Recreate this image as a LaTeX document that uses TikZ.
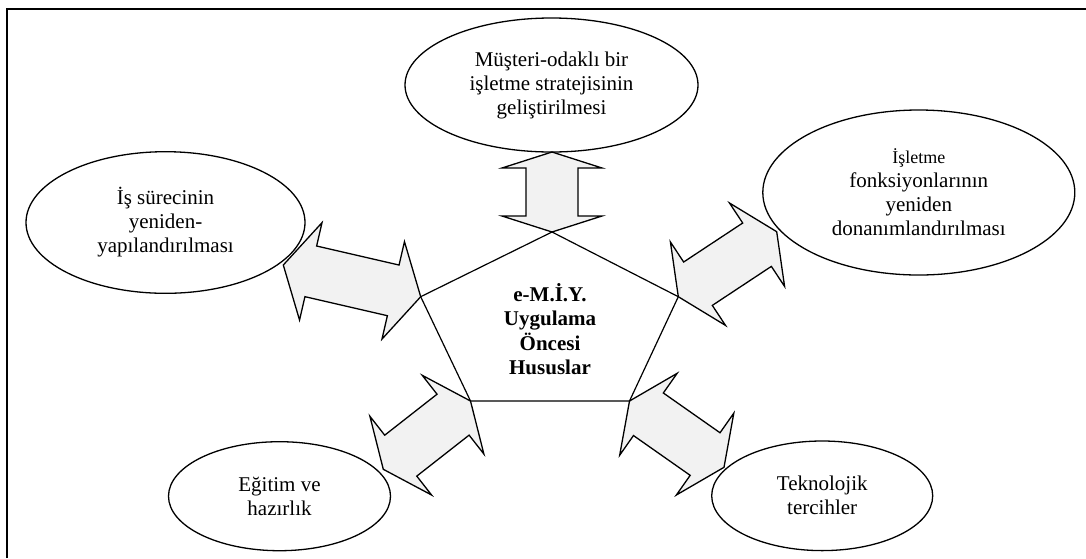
\documentclass[tikz,border=0pt]{standalone}
\usepackage{fontspec}
\setmainfont{Liberation Serif}
\usetikzlibrary{calc,shapes.geometric}

\tikzset{
  topic/.style={draw, line width=1.3pt, ellipse, inner sep=0pt, align=center,
    font=\fontsize{21}{24}\selectfont},
  blockarrow/.style={draw, line width=1.3pt, fill=gray!10},
  rim/.style={line width=1.2pt},
  frameline/.style={line width=2pt}
}

% double-headed block arrow between two named points
\newcommand{\dblarrow}[2]{%
  \path (#1) -- (#2) coordinate[pos=0.2] (h1) coordinate[pos=0.8] (h2);
  \draw[blockarrow] (#1)
    -- ($(h1)!50pt!90:(#2)$) -- ($(h1)!26pt!90:(#2)$)
    -- ($(h2)!26pt!-90:(#1)$) -- ($(h2)!50pt!-90:(#1)$)
    -- (#2)
    -- ($(h2)!50pt!90:(#1)$) -- ($(h2)!26pt!90:(#1)$)
    -- ($(h1)!26pt!-90:(#2)$) -- ($(h1)!50pt!-90:(#2)$)
    -- cycle;}

\begin{document}
\begin{tikzpicture}[x=1pt,y=-1pt]
\useasboundingbox (0,0) rectangle (1086,558);

% outer frame (top and left edges)
\draw[frameline] (7,558) -- (7,8.5) -- (1086,8.5);

% pentagon corners
\coordinate (pT)  at (552,232);
\coordinate (pL)  at (420.7,296.7);
\coordinate (pR)  at (678.3,296.7);
\coordinate (pBL) at (470.5,401);
\coordinate (pBR) at (629.5,401);

% topics
\node[topic, minimum width=293pt, minimum height=134pt] (strat) at (551.5,85)
  {Müşteri-odaklı bir\\ işletme stratejisinin\\ geliştirilmesi};
\node[topic, minimum width=279pt, minimum height=141.6pt] (surec) at (165.5,222.5)
  {İş sürecinin\\ yeniden-\\ yapılandırılması};
\node[topic, minimum width=312pt, minimum height=165pt] (fonk) at (918.8,192.5)
  {{\fontsize{18}{24}\selectfont İşletme}\\ fonksiyonlarının\\ yeniden\\ donanımlandırılması};
\node[topic, minimum width=222pt, minimum height=109pt] (egitim) at (279.5,496.2)
  {Eğitim ve\\ hazırlık};
\node[topic, minimum width=221pt, minimum height=109.6pt] (tekno) at (822.2,495.8)
  {Teknolojik\\ tercihler};

% arrow ends on the topic ellipses
\coordinate (aT)  at (552,152);
\coordinate (aL)  at (283.3,265);
\coordinate (aR)  at (776.7,231.7);
\coordinate (aBL) at (383.3,469.3);
\coordinate (aBR) at (724,467.3);

% block arrows
\dblarrow{aT}{pT}
\dblarrow{aL}{pL}
\dblarrow{pR}{aR}
\dblarrow{aBL}{pBL}
\dblarrow{pBR}{aBR}

% pentagon
\draw[rim] (pT) -- (pR) -- (pBR) -- (pBL) -- (pL) -- cycle;

\node[align=center, font=\fontsize{21}{24.5}\selectfont\bfseries] (core) at (550,329)
  {e-M.İ.Y.\\ Uygulama\\ Öncesi\\ Hususlar};
\end{tikzpicture}
\end{document}
